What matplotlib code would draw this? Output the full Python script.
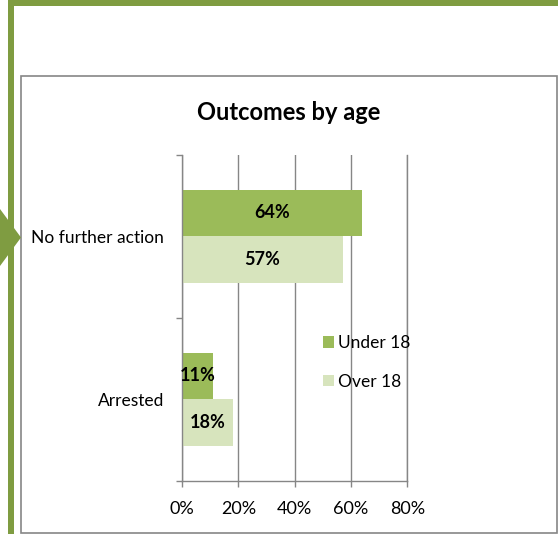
import matplotlib
matplotlib.use("Agg")
import matplotlib.pyplot as plt
from matplotlib.patches import Rectangle, Polygon
from matplotlib.ticker import FixedLocator, FuncFormatter

plt.rcParams['font.family'] = ['Lato', 'DejaVu Sans']

# ---- data ----
categories = ["No further action", "Arrested"]
series_names = ["Under 18", "Over 18"]
under18 = [0.64, 0.11]
over18 = [0.57, 0.18]
xticks = [0.0, 0.2, 0.4, 0.6, 0.8]
title = "Outcomes by age"

c_under = '#9BBB59'
c_over = '#D7E4BD'
c_green = '#7F9C41'
c_gray = '#868686'

W, H = 558, 534
fig = plt.figure(figsize=(W / 100, H / 100), dpi=100)

def fx(x):
    return x / W

def fy(y):
    return 1 - y / H

# decorative frame
fig.add_artist(Rectangle((fx(8), fy(534)), 5.5 / W, 534 / H, transform=fig.transFigure,
                         facecolor=c_green, edgecolor='none', zorder=5))
fig.add_artist(Rectangle((fx(8), fy(5.5)), (558 - 8) / W, 5.5 / H, transform=fig.transFigure,
                         facecolor=c_green, edgecolor='none', zorder=5))
fig.add_artist(Polygon([(fx(0), fy(209)), (fx(21), fy(237.5)), (fx(0), fy(266))],
                       closed=True, transform=fig.transFigure,
                       facecolor=c_green, edgecolor='none', zorder=5))
fig.add_artist(Rectangle((fx(20.5), fy(532.5)), (557 - 20.5) / W, (532.5 - 75.5) / H,
                         transform=fig.transFigure, facecolor='none',
                         edgecolor=c_gray, linewidth=1.2, zorder=4))

# axes
left, right, top, bottom = 182, 407.3, 154.7, 480.7
ax = fig.add_axes([fx(left), fy(bottom), (right - left) / W, (bottom - top) / H])

n = len(categories)
centers = [n - 0.5 - i for i in range(n)]
bh = 0.285
ax.barh([c + bh / 2 for c in centers], under18, height=bh, color=c_under,
        label=series_names[0], zorder=2)
ax.barh([c - bh / 2 for c in centers], over18, height=bh, color=c_over,
        label=series_names[1], zorder=2)

for c, v in zip(centers, under18):
    ax.text(v / 2, c + bh / 2, f"{round(v*100)}%", ha='center', va='center',
            fontsize=13, fontweight='bold', zorder=3)
for c, v in zip(centers, over18):
    ax.text(v / 2, c - bh / 2, f"{round(v*100)}%", ha='center', va='center',
            fontsize=13, fontweight='bold', zorder=3)

ax.set_xlim(0, 0.8)
ax.set_ylim(0, n)
ax.xaxis.set_major_locator(FixedLocator(xticks))
ax.xaxis.set_major_formatter(FuncFormatter(lambda v, p: f"{round(v*100)}%"))
ax.yaxis.set_major_locator(FixedLocator(list(range(n + 1))))
ax.yaxis.set_major_formatter(FuncFormatter(lambda v, p: ""))
ax.yaxis.set_minor_locator(FixedLocator(centers))
ax.set_yticklabels(categories, minor=True)

ax.tick_params(axis='x', direction='out', length=4.5, width=1, color=c_gray,
               labelsize=13, pad=10)
ax.tick_params(axis='y', which='major', direction='out', length=4, width=1, color=c_gray)
ax.tick_params(axis='y', which='minor', length=0, labelsize=12.5, pad=13)

ax.grid(axis='x', color=c_gray, linewidth=1)
ax.set_axisbelow(True)
ax.spines['top'].set_visible(False)
for s in ['left', 'bottom', 'right']:
    ax.spines[s].set_color(c_gray)
    ax.spines[s].set_linewidth(1)

ax.legend(loc='upper left', bbox_to_anchor=(fx(323), fy(335)),
          bbox_transform=fig.transFigure, frameon=False, fontsize=12.5,
          borderpad=0, borderaxespad=0, handlelength=0.63, handleheight=0.63,
          handletextpad=0.22, labelspacing=1.3)

fig.text(fx(289), fy(112.7), title, ha='center', va='center', fontsize=17,
         fontweight='bold')

fig.savefig("out.png", dpi=100)
